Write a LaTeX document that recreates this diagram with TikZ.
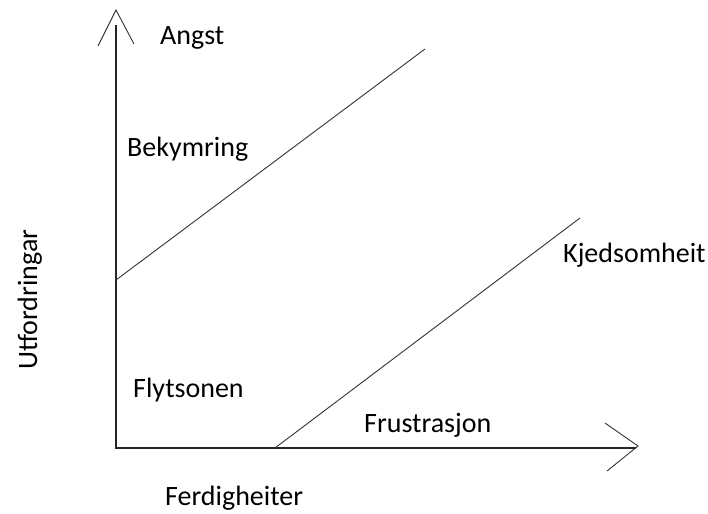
\documentclass[tikz,border=0pt]{standalone}
\usepackage{fontspec}
\setmainfont{Carlito}
\usetikzlibrary{positioning}

\begin{document}
\begin{tikzpicture}[x=1pt,y=-1pt,
every node/.style={inner sep=0pt,anchor=base west,font=\fontsize{28}{32}\selectfont},
axis/.style={line width=1.3pt,black!85},
zone/.style={line width=0.9pt,black!80}]
\useasboundingbox (0,0) rectangle (708,513);
% axes
\coordinate (O) at (116,448);
\coordinate (Ytop) at (116,25);
\coordinate (Xend) at (636,448);
\coordinate (Yhead) at (116,10);
\coordinate (YL) at (98,46);
\coordinate (YR) at (134,44);
\coordinate (Xhead) at (638,446);
\coordinate (XT) at (605,423);
\coordinate (XB) at (607,471);
\draw[axis] (Ytop)--(O)--(Xend);
\draw[zone] (YL)--(Yhead)--(YR);
\draw[zone] (XT)--(Xhead)--(XB);
% zone boundaries
\coordinate (U1) at (116,280);
\coordinate (U2) at (425,49);
\coordinate (L1) at (275,448);
\coordinate (L2) at (580,218);
\draw[zone] (U1)--(U2);
\draw[zone] (L1)--(L2);
% labels
\node (angst) at (160,45) {Angst};
\node (bekym) at (127,157) {Bekymring};
\node (flyt) at (133,397) {Flytsonen};
\node (frust) at (364,432) {Frustrasjon};
\node (kjed) at (563,262) {Kjedsomheit};
\node (ferd) at (165,505) {Ferdigheiter};
\node[rotate=90] (utf) at (37,370) {Utfordringar};
\end{tikzpicture}
\end{document}
